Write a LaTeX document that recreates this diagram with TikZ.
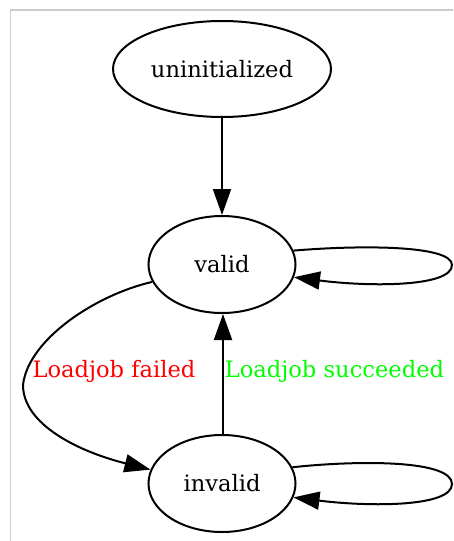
\documentclass[tikz,border=0pt]{standalone}
\usepackage{fontspec}
\setmainfont{DejaVu Serif}
\usetikzlibrary{arrows.meta,shapes.geometric}
\begin{document}
\begin{tikzpicture}[x=1pt,y=-1pt,
  state/.style={ellipse,draw,line width=2pt,inner sep=0pt,font=\fontsize{22.6}{27}\selectfont},
  edge/.style={line width=2pt,-{Triangle[length=26pt,width=18pt]}},
  lbl/.style={font=\fontsize{22.6}{27}\selectfont,anchor=base,inner sep=0pt}]
\useasboundingbox (0,0) rectangle (453,541);
\draw[color={rgb,255:red,204;green,204;blue,204},line width=1.2pt] (453,10) -- (10.5,10) -- (10.5,541);
\node[state,minimum width=218pt,minimum height=96pt] (uninit) at (222,69) {uninitialized};
\node[state,minimum width=147pt,minimum height=97pt] (valid) at (222,264.5) {valid};
\node[state,minimum width=147pt,minimum height=97pt] (invalid) at (222,483.5) {invalid};
\draw[edge] (uninit.south) -- (valid.north);
\draw[edge] ([xshift=1pt]invalid.north) -- ([xshift=1pt]valid.south);
\draw[edge] (valid.194.3) .. controls (95,295) and (28,340) .. (23,385) .. controls (23,425) and (80,452) .. (invalid.169);
\draw[edge] (valid.11.5) .. controls (360,245) and (452,245) .. (452,265) .. controls (452,287) and (370,287) .. (valid.-10.5);
\draw[edge] (invalid.13) .. controls (360,460) and (452,460) .. (452,484) .. controls (452,507) and (370,507) .. (invalid.-11.5);
\node[lbl,text={rgb,255:red,255;green,0;blue,0}] (lf) at (114,377) {Loadjob failed};
\node[lbl,text={rgb,255:red,0;green,255;blue,0}] (ls) at (334.5,377) {Loadjob succeeded};
\end{tikzpicture}
\end{document}
